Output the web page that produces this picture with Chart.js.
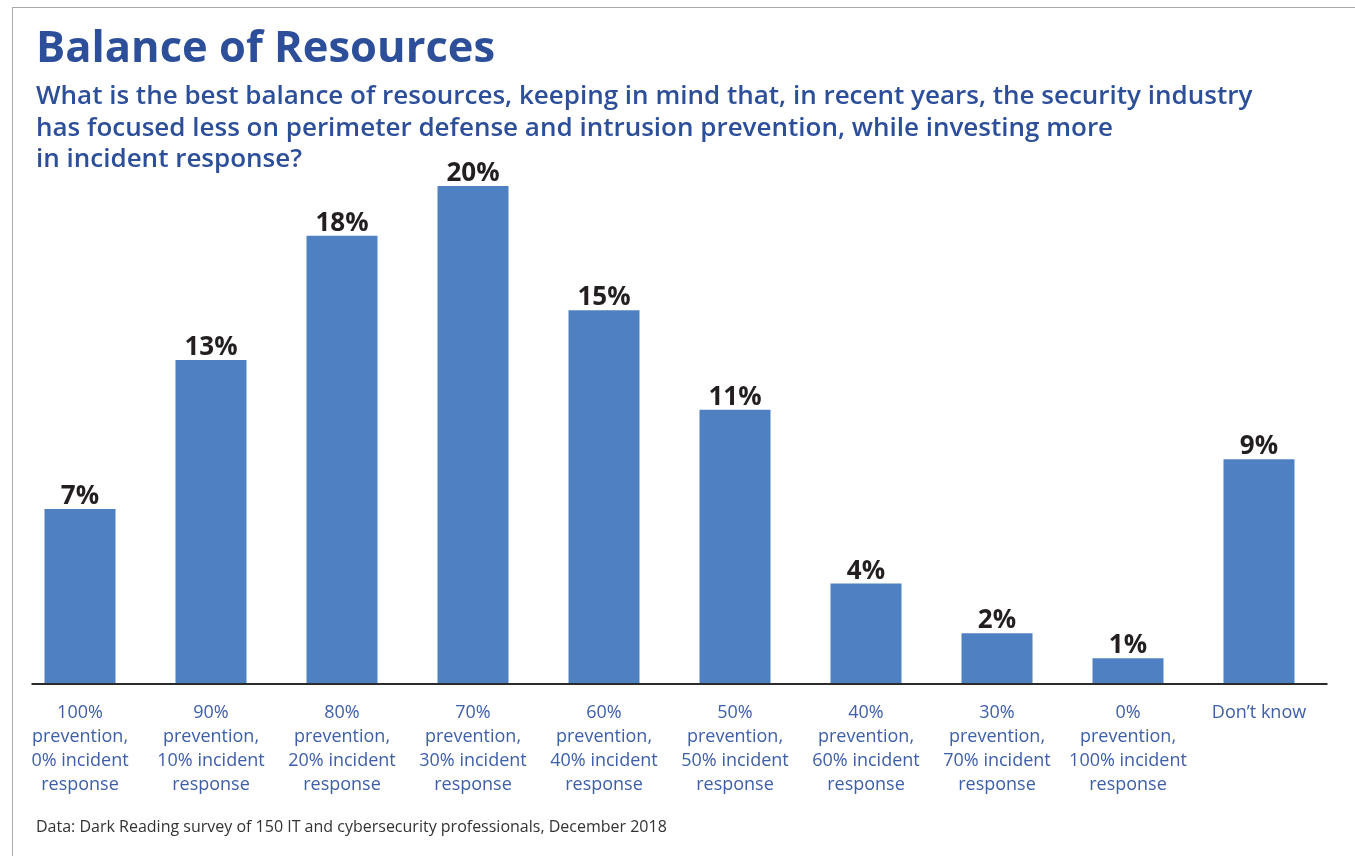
<!DOCTYPE html>
<html>
<head>
<meta charset="utf-8">
<title>Balance of Resources</title>
<script src="https://cdn.jsdelivr.net/npm/chart.js@4.4.1/dist/chart.umd.min.js"></script>
<style>
  body { margin: 0; background: #fff; font-family: "Open Sans", sans-serif; }
  #page { position: relative; width: 1355px; height: 856px; overflow: hidden; background: #fff; }
  #frame { position: absolute; left: 12px; top: 7px; right: -2px; bottom: -2px;
           border-top: 1px solid #a9a9a9; border-left: 1px solid #a9a9a9; }
  #myChart { position: absolute; left: 0; top: 0; }
  .txt { position: absolute; left: 36px; margin: 0; white-space: nowrap; line-height: normal; }
  #title { top: 16px; font-size: 43.5px; font-weight: 700; color: #2d4f9a; }
  #subtitle { top: 79px; font-size: 26px; font-weight: 600; color: #2d4f9a; line-height: 31.5px; }
  #source { top: 815px; font-size: 16px; color: #333; }
</style>
</head>
<body>
<div id="page">
  <div id="frame"></div>
  <canvas id="myChart" width="1355" height="856"></canvas>
  <div class="txt" id="title">Balance of Resources</div>
  <div class="txt" id="subtitle">What is the best balance of resources, keeping in mind that, in recent years, the security industry<br>has focused less on perimeter defense and intrusion prevention, while investing more<br>in incident response?</div>
  <div class="txt" id="source">Data: Dark Reading survey of 150 IT and cybersecurity professionals, December 2018</div>
</div>
<script>
// answer options, each split into the lines shown under the bars
let labels = [
  ["100%", "prevention,", "0% incident", "response"],
  ["90%", "prevention,", "10% incident", "response"],
  ["80%", "prevention,", "20% incident", "response"],
  ["70%", "prevention,", "30% incident", "response"],
  ["60%", "prevention,", "40% incident", "response"],
  ["50%", "prevention,", "50% incident", "response"],
  ["40%", "prevention,", "60% incident", "response"],
  ["30%", "prevention,", "70% incident", "response"],
  ["0%", "prevention,", "100% incident", "response"],
  ["Don\u2019t know"]
]

// share of respondents, percent
let shares = [7, 13, 18, 20, 15, 11, 4, 2, 1, 9]

// percent labels on top of each bar
const valueLabels = {
  id: 'valueLabels',
  afterDatasetsDraw(chart) {
    let ctx = chart.ctx
    let meta = chart.getDatasetMeta(0)
    ctx.save()
    ctx.font = 'bold 26px "Open Sans"'
    ctx.fillStyle = '#231f20'
    ctx.textAlign = 'center'
    ctx.textBaseline = 'alphabetic'
    meta.data.forEach((bar, i) => {
      ctx.fillText(shares[i] + '%', bar.x, bar.y - 5)
    })
    ctx.restore()
  }
}

// dark base line under the bars, a bit wider than the plot
const baseLine = {
  id: 'baseLine',
  afterDatasetsDraw(chart) {
    let ctx = chart.ctx
    let area = chart.chartArea
    ctx.save()
    ctx.strokeStyle = '#2b2b2b'
    ctx.lineWidth = 2
    ctx.beginPath()
    ctx.moveTo(area.left + 17, area.bottom + 1)
    ctx.lineTo(area.right + 3, area.bottom + 1)
    ctx.stroke()
    ctx.restore()
  }
}

let data = {
  labels: labels,
  datasets: [{
    data: shares,
    backgroundColor: '#4f81c2',
    borderWidth: 0,
    barPercentage: 0.542,
    categoryPercentage: 1
  }]
}

let config = {
  type: 'bar',
  data: data,
  options: {
    responsive: false,
    animation: false,
    layout: { padding: { top: 186, left: 14.5, right: 30.5, bottom: 41 } },
    plugins: {
      legend: { display: false },
      tooltip: { enabled: false }
    },
    scales: {
      x: {
        grid: { display: false, drawTicks: false },
        border: { display: false },
        ticks: {
          maxRotation: 0,
          autoSkip: false,
          padding: 18,
          color: '#3d5ea9',
          font: { family: '"Open Sans"', size: 18, lineHeight: 1.333 }
        }
      },
      y: {
        display: false,
        min: 0,
        max: 20
      }
    }
  },
  plugins: [valueLabels, baseLine]
}

let myChart = new Chart(document.getElementById('myChart'), config)
</script>
</body>
</html>
